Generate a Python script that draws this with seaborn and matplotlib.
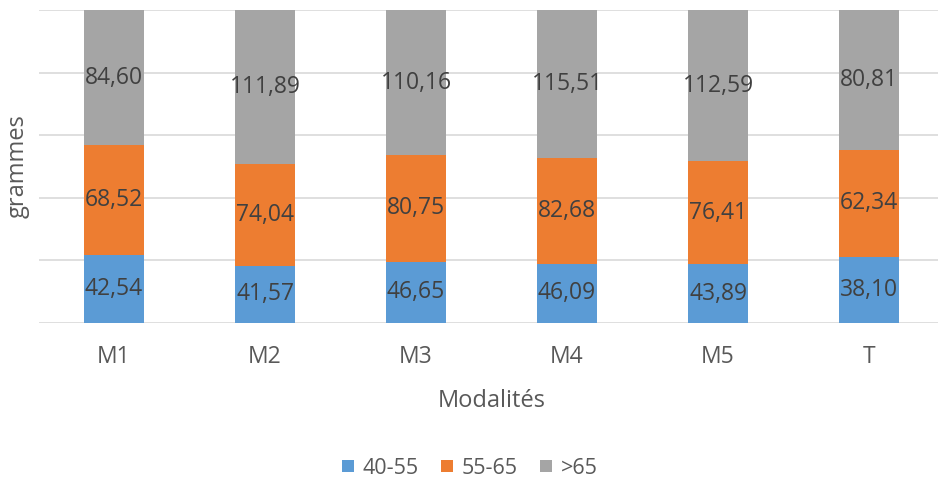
import matplotlib
matplotlib.use("Agg")
import matplotlib.pyplot as plt
import seaborn as sns
import pandas as pd
import numpy as np
from matplotlib.lines import Line2D

# Mean weight (grammes) per size class for each treatment
modalites = ["M1", "M2", "M3", "M4", "M5", "T"]
classe_40_55 = [42.54, 41.57, 46.65, 46.09, 43.89, 38.10]
classe_55_65 = [68.52, 74.04, 80.75, 82.68, 76.41, 62.34]
classe_sup_65 = [84.60, 111.89, 110.16, 115.51, 112.59, 80.81]
series_names = ["40-55", "55-65", ">65"]
colors = ["#5b9bd5", "#ed7d31", "#a5a5a5"]

sns.set_theme(style="white")
plt.rcParams["font.family"] = ["Open Sans", "DejaVu Sans"]

vals = np.array([classe_40_55, classe_55_65, classe_sup_65])
totals = vals.sum(axis=0)
shares = vals / totals * 100
cum = np.cumsum(shares, axis=0)

df = pd.DataFrame({"Modalité": modalites})
for i, name in enumerate(series_names):
    df[f"cum_{i}"] = cum[i]

fig = plt.figure(figsize=(9.38, 4.82), dpi=100)
ax = fig.add_axes([38.5 / 938, 1 - 323 / 482, 906 / 938, 313 / 482])

# 100 % stacked bars: draw cumulative layers from the top down
for i in reversed(range(3)):
    sns.barplot(data=df, x="Modalité", y=f"cum_{i}", color=colors[i],
                width=0.4, saturation=1, ax=ax, zorder=2, linewidth=0)

# value labels centred in each segment
for j in range(len(modalites)):
    base = 0
    for i in range(3):
        mid = base + shares[i, j] / 2
        ax.text(j, mid, f"{vals[i, j]:.2f}".replace(".", ","),
                ha="center", va="center", fontsize=16.5, color="#404040",
                zorder=3)
        base += shares[i, j]

ax.set_ylim(0, 100)
ax.set_xlim(-0.5, len(modalites) - 0.5)
ax.set_yticks([0, 20, 40, 60, 80, 100])
ax.set_yticklabels([])
ax.yaxis.grid(True, color="#d9d9d9", linewidth=1.2, zorder=0)
ax.set_axisbelow(True)
for s in ax.spines.values():
    s.set_visible(False)
ax.tick_params(axis="both", length=0)
ax.tick_params(axis="x", pad=16, labelsize=16.5, labelcolor="#595959")
ax.set_xlabel("Modalités", fontsize=17, color="#595959", labelpad=14)
ax.set_ylabel("grammes", fontsize=17, color="#595959", labelpad=3)

handles = [Line2D([0], [0], marker="s", linestyle="", markersize=9,
                  markerfacecolor=c, markeredgewidth=0) for c in colors]
fig.legend(handles, series_names, loc="center", bbox_to_anchor=(0.5, 1 - 468 / 482),
           ncol=3, frameon=False, fontsize=15.5, labelcolor="#595959",
           handlelength=0.7, handletextpad=0.3, columnspacing=1.0)

fig.savefig("out.png", dpi=100)
